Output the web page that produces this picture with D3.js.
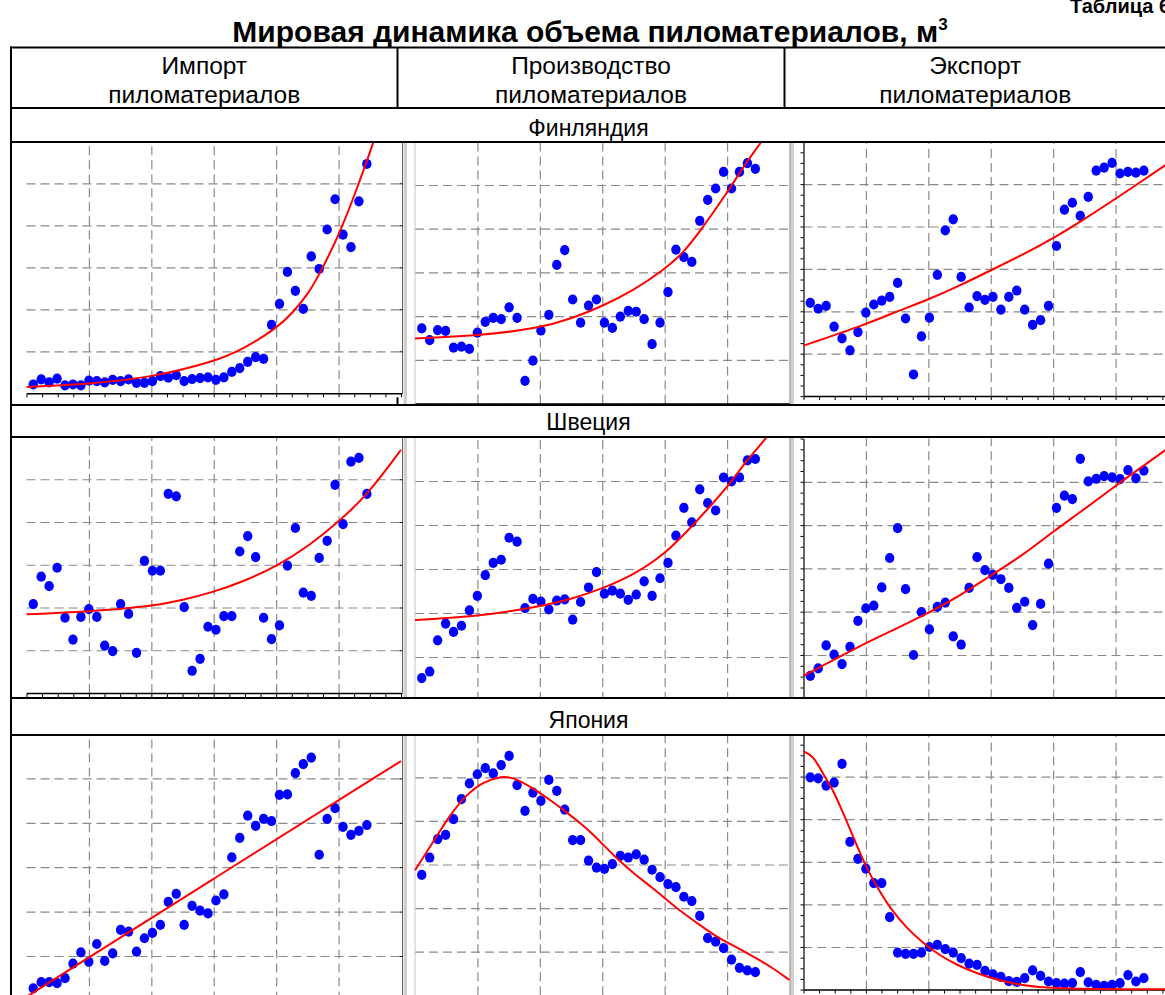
<!DOCTYPE html>
<html lang="ru">
<head>
<meta charset="utf-8">
<title>Мировая динамика объема пиломатериалов</title>
<script src="https://cdn.jsdelivr.net/npm/d3@7/dist/d3.min.js"></script>
<style>
    html, body { margin: 0; padding: 0; background: #fff; }
    svg { display: block; }
    text { font-family: 'Liberation Sans', Arial, sans-serif; fill: #000; }
</style>
</head>
<body>
<div id="chart"></div>
<script>
///// DATOS //////
//Años de las series (eje X)
const years = [1961, 1962, 1963, 1964, 1965, 1966, 1967, 1968, 1969, 1970,
    1971, 1972, 1973, 1974, 1975, 1976, 1977, 1978, 1979, 1980,
    1981, 1982, 1983, 1984, 1985, 1986, 1987, 1988, 1989, 1990,
    1991, 1992, 1993, 1994, 1995, 1996, 1997, 1998, 1999, 2000,
    2001, 2002, 2003];

//Valores en unidades relativas (0-6 = altura del gráfico)
const finImport = [0.21, 0.33, 0.26, 0.35, 0.19, 0.21, 0.19, 0.30, 0.29, 0.26, 0.32, 0.29, 0.33, 0.25, 0.25, 0.29, 0.41, 0.37, 0.43, 0.29, 0.34, 0.36, 0.38, 0.32, 0.38, 0.51, 0.60, 0.75, 0.86, 0.82, 1.63, 2.13, 2.89, 2.44, 2.01, 3.26, 2.96, 3.90, 4.62, 3.78, 3.48, 4.57, 5.46];
const finProd = [1.72, 1.45, 1.68, 1.66, 1.28, 1.30, 1.25, 1.62, 1.87, 1.96, 1.93, 2.20, 1.96, 0.52, 0.98, 1.67, 2.03, 3.17, 3.51, 2.38, 1.85, 2.24, 2.38, 1.85, 1.73, 1.99, 2.12, 2.10, 1.93, 1.36, 1.85, 2.55, 3.52, 3.35, 3.24, 4.18, 4.66, 4.92, 5.30, 4.92, 5.30, 5.50, 5.37];
const finExport = [2.20, 2.06, 2.13, 1.64, 1.36, 1.08, 1.51, 1.97, 2.16, 2.25, 2.34, 2.67, 1.83, 0.51, 1.41, 1.85, 2.86, 3.91, 4.17, 2.81, 2.09, 2.36, 2.27, 2.34, 2.04, 2.34, 2.49, 2.04, 1.68, 1.79, 2.13, 3.54, 4.40, 4.56, 4.25, 4.70, 5.32, 5.39, 5.50, 5.25, 5.29, 5.27, 5.32];
const sweImport = [2.08, 2.72, 2.50, 2.93, 1.76, 1.25, 1.78, 1.96, 1.78, 1.11, 0.98, 2.08, 1.85, 0.94, 3.09, 2.86, 2.86, 4.66, 4.60, 2.01, 0.52, 0.80, 1.55, 1.48, 1.80, 1.80, 3.31, 3.67, 3.18, 1.76, 1.26, 1.58, 2.98, 3.86, 2.35, 2.27, 3.16, 3.56, 4.87, 3.95, 5.41, 5.50, 4.66];
const sweProd = [0.52, 0.67, 1.38, 1.76, 1.57, 1.71, 2.06, 2.39, 2.86, 3.14, 3.21, 3.71, 3.62, 2.11, 2.32, 2.26, 2.08, 2.28, 2.31, 1.85, 2.25, 2.58, 2.93, 2.44, 2.51, 2.44, 2.30, 2.42, 2.72, 2.39, 2.79, 3.14, 3.76, 4.39, 4.06, 4.81, 4.50, 4.33, 5.08, 4.99, 5.08, 5.47, 5.50];
const sweExport = [0.52, 0.69, 1.22, 1.01, 0.79, 1.19, 1.79, 2.08, 2.14, 2.56, 3.24, 3.93, 2.52, 1.00, 1.99, 1.59, 2.11, 2.21, 1.43, 1.24, 2.55, 3.26, 2.96, 2.85, 2.75, 2.55, 2.09, 2.23, 1.69, 2.18, 3.11, 4.40, 4.68, 4.60, 5.53, 5.01, 5.07, 5.13, 5.10, 5.06, 5.27, 5.08, 5.26];
const jpnImport = [0.27, 0.41, 0.41, 0.39, 0.50, 0.83, 1.08, 0.87, 1.27, 0.89, 1.06, 1.59, 1.55, 1.10, 1.40, 1.52, 1.70, 2.22, 2.40, 1.70, 2.13, 2.02, 1.96, 2.25, 2.39, 3.22, 3.66, 4.16, 3.93, 4.09, 4.04, 4.63, 4.64, 5.12, 5.32, 5.47, 3.28, 4.09, 4.33, 3.91, 3.73, 3.82, 3.95];
const jpnProd = [2.76, 3.16, 3.58, 3.68, 4.04, 4.50, 4.86, 5.07, 5.21, 5.09, 5.28, 5.49, 4.82, 4.23, 4.65, 4.46, 4.94, 4.69, 4.26, 3.56, 3.56, 3.09, 2.93, 2.90, 3.01, 3.20, 3.16, 3.23, 3.11, 2.88, 2.71, 2.55, 2.48, 2.26, 2.16, 1.82, 1.31, 1.23, 1.08, 0.82, 0.63, 0.57, 0.53];
const jpnExport = [4.98, 4.96, 4.79, 4.86, 5.30, 3.47, 3.07, 2.84, 2.50, 2.50, 1.70, 0.87, 0.84, 0.84, 0.87, 1.00, 1.05, 0.95, 0.87, 0.74, 0.61, 0.58, 0.44, 0.36, 0.30, 0.20, 0.18, 0.27, 0.45, 0.32, 0.19, 0.15, 0.14, 0.15, 0.41, 0.17, 0.11, 0.09, 0.11, 0.15, 0.34, 0.19, 0.27];

//Curvas de ajuste: [año, valor]
const finImportFit = [[1960.15, 0.15], [1968.0, 0.22], [1975.9, 0.38], [1983.75, 0.75], [1987.4, 1.05], [1991.65, 1.55], [1993.7, 1.92], [1995.8, 2.42], [1997.1, 2.86], [1999.5, 3.77], [2001.7, 4.84], [2003.8, 5.95], [2004.6, 6.45]];
const finProdFit = [[1960.15, 1.49], [1968.0, 1.55], [1975.8, 1.72], [1980.1, 1.96], [1983.65, 2.22], [1987.6, 2.58], [1991.5, 3.06], [1993.9, 3.44], [1996.0, 3.93], [1999.4, 4.81], [2001.9, 5.53], [2003.8, 5.99], [2005.0, 6.35]];
const finExportFit = [[1960.15, 1.19], [1968.0, 1.69], [1971.8, 1.99], [1975.9, 2.28], [1979.75, 2.60], [1983.65, 2.96], [1987.7, 3.33], [1991.5, 3.71], [1995.3, 4.15], [1999.35, 4.64], [2005.6, 5.43], [2007.3, 5.65]];
const sweImportFit = [[1960.15, 1.84], [1967.85, 1.90], [1975.74, 2.02], [1979.9, 2.18], [1983.67, 2.36], [1987.45, 2.61], [1991.65, 2.96], [1995.84, 3.46], [1999.5, 4.01], [2003.18, 4.66], [2007.3, 5.69]];
const sweProdFit = [[1960.15, 1.84], [1968.0, 1.92], [1975.8, 2.14], [1980.1, 2.33], [1983.65, 2.55], [1987.6, 2.86], [1991.5, 3.32], [1994.8, 3.93], [1997.3, 4.42], [2000.0, 4.98], [2001.9, 5.47], [2004.4, 5.97], [2005.5, 6.3]];
const sweExportFit = [[1960.15, 0.52], [1967.85, 1.27], [1971.04, 1.54], [1975.74, 1.96], [1979.5, 2.33], [1983.5, 2.81], [1987.8, 3.31], [1991.4, 3.83], [1995.4, 4.35], [1999.3, 4.89], [2002.5, 5.31], [2005.7, 5.73], [2007.3, 5.95]];
const jpnImportFit = [[1960.15, 0.08], [1983.7, 2.74], [2007.3, 5.39]];
const jpnProdFit = [[1960.15, 2.87], [1962.45, 3.52], [1964.56, 4.14], [1966.66, 4.61], [1968.75, 4.90], [1971.06, 5.03], [1972.53, 5.00], [1975.04, 4.75], [1977.15, 4.48], [1979.25, 4.20], [1981.77, 3.83], [1983.65, 3.49], [1985.54, 3.14], [1987.63, 2.80], [1990.15, 2.45], [1991.84, 2.19], [1993.93, 1.88], [1996.03, 1.61], [1998.13, 1.34], [2000.22, 1.14], [2002.74, 0.89], [2005.26, 0.62], [2007.3, 0.35]];
const jpnExportFit = [[1960.15, 5.59], [1961.4, 5.49], [1962.64, 5.05], [1963.9, 4.68], [1965.16, 4.14], [1966.84, 3.39], [1968.1, 2.85], [1969.37, 2.42], [1971.04, 1.91], [1973.14, 1.44], [1975.23, 1.09], [1977.33, 0.80], [1979.44, 0.58], [1981.96, 0.38], [1984.47, 0.23], [1987.82, 0.09], [1992.03, 0.03], [1996.22, 0.01], [2007.3, 0.01]];

//Textos de la tabla
const tableTitle = 'Мировая динамика объема пиломатериалов, м';
const tableNumber = 'Таблица 6';
const colNames = [['Импорт', 'пиломатериалов'], ['Производство', 'пиломатериалов'], ['Экспорт', 'пиломатериалов']];
const rowNames = ['Финляндия', 'Швеция', 'Япония'];

const xDomain = [1960.15, 2007.3];
const yDomain = [0, 6];

///// DISPOSICIÓN //////
let width = 1165, height = 995;
let colLines = [11, 397.5, 784.5, 1166];
let hLines = [47.5, 108, 142, 405, 437, 698, 735];
let rowBoxes = [{top: 143, bottom: 404}, {top: 438, bottom: 697}, {top: 736, bottom: 1000}];
let labelBaselines = [136, 430, 728];
let imgBoxes = [{x0: 12, x1: 403}, {x0: 403, x1: 790}, {x0: 790, x1: 1166}];
let plotX0 = [26.5, 415, 803.5], plotW = 374.5;

let panels = [
    {row: 0, col: 0, dots: finImport, fit: finImportFit, bottom: 393.3, gy: 42},
    {row: 0, col: 1, dots: finProd, fit: finProdFit, bottom: 403.5, gy: 43.7},
    {row: 0, col: 2, dots: finExport, fit: finExportFit, bottom: 396.1, gy: 42.4},
    {row: 1, col: 0, dots: sweImport, fit: sweImportFit, bottom: 693, gy: 42.75},
    {row: 1, col: 1, dots: sweProd, fit: sweProdFit, bottom: 701, gy: 44},
    {row: 1, col: 2, dots: sweExport, fit: sweExportFit, bottom: 698.3, gy: 43.3},
    {row: 2, col: 0, dots: jpnImport, fit: jpnImportFit, bottom: 1000.4, gy: 44.4},
    {row: 2, col: 1, dots: jpnProd, fit: jpnProdFit, bottom: 995.3, gy: 43.6},
    {row: 2, col: 2, dots: jpnExport, fit: jpnExportFit, bottom: 989.6, gy: 42.6}
];

let svg = d3.select('#chart')
    .append('svg')
    .attr('width', width)
    .attr('height', height);

svg.append('rect').attr('width', width).attr('height', height).attr('fill', '#fff');

//Divisiones de columnas bajo las imágenes
let chartRowSpans = [[142, 405], [437, 698], [735, 1000]];
chartRowSpans.forEach(function(s) {
    [colLines[1], colLines[2]].forEach(function(cx) {
        svg.append('line')
            .attr('x1', cx).attr('x2', cx)
            .attr('y1', s[0]).attr('y2', s[1])
            .attr('stroke', '#000').attr('stroke-width', 2);
    });
});

let span = xDomain[1] - xDomain[0];
let gridX = d3.range(1, 6).map(function(i) { return xDomain[0] + i * span / 6; });
let minorX = d3.range(0, 25).map(function(i) { return xDomain[0] + i * span / 24; });
let gridY = [1, 2, 3, 4, 5];
let minorY = d3.range(0, 25).map(function(i) { return i / 4; });

///// GRÁFICOS //////
panels.forEach(function(p, i) {
    let box = imgBoxes[p.col], rb = rowBoxes[p.row];
    let left = plotX0[p.col], right = left + plotW;
    let plotH = 6 * p.gy;

    svg.append('clipPath').attr('id', 'clip' + i)
        .append('rect')
        .attr('x', box.x0).attr('y', rb.top)
        .attr('width', box.x1 - box.x0).attr('height', rb.bottom - rb.top);

    let g = svg.append('g').attr('clip-path', 'url(#clip' + i + ')');

    let x = d3.scaleLinear().domain(xDomain).range([left, right]);
    let y = d3.scaleLinear().domain(yDomain).range([p.bottom, p.bottom - plotH]);

    //Fondo de la captura
    g.append('rect')
        .attr('x', box.x0).attr('y', rb.top)
        .attr('width', box.x1 - box.x0)
        .attr('height', Math.min(rb.bottom, p.bottom + 4) - rb.top)
        .attr('fill', '#fff');

    //Rejilla vertical
    g.append('g')
        .attr('transform', 'translate(0,' + p.bottom + ')')
        .call(d3.axisBottom(x).tickValues(gridX).tickSize(-plotH).tickFormat(''))
        .call(function(g) { g.select('.domain').remove(); })
        .call(function(g) {
            g.selectAll('.tick line')
                .attr('stroke', '#8a8a8a')
                .attr('stroke-width', 1.2)
                .attr('stroke-dasharray', '9,5');
        });

    //Rejilla horizontal
    g.append('g')
        .attr('transform', 'translate(' + left + ',0)')
        .call(d3.axisLeft(y).tickValues(gridY).tickSize(-plotW).tickFormat(''))
        .call(function(g) { g.select('.domain').remove(); })
        .call(function(g) {
            g.selectAll('.tick line')
                .attr('stroke', '#8a8a8a')
                .attr('stroke-width', 1.2)
                .attr('stroke-dasharray', '9,5');
        });

    //Eje X con marcas menores
    g.append('g')
        .attr('transform', 'translate(0,' + p.bottom + ')')
        .call(d3.axisBottom(x).tickValues(minorX).tickSize(4).tickSizeOuter(0).tickFormat(''))
        .call(function(g) {
            g.select('.domain').attr('stroke', '#000').attr('stroke-width', 1.5);
            g.selectAll('.tick line').attr('stroke', '#000');
        });

    //Bordes de ventana
    if (p.col == 0) {
        g.append('g')
            .attr('transform', 'translate(402.5,0)')
            .call(d3.axisLeft(y).tickValues([0, 1, 2, 3, 4, 5, 6]).tickSize(3).tickSizeOuter(0).tickFormat(''))
            .call(function(g) {
                g.select('.domain').attr('stroke', '#000').attr('stroke-width', 1.2);
            });
    }
    if (p.col == 1) {
        g.append('rect').attr('x', 403.5).attr('y', rb.top).attr('width', 3.5).attr('height', rb.bottom - rb.top).attr('fill', '#d4d0c8');
        g.append('line').attr('x1', left).attr('x2', left).attr('y1', rb.top).attr('y2', p.bottom).attr('stroke', '#c8c8c8');
        g.append('rect').attr('x', 790.5).attr('y', rb.top).attr('width', 3.5).attr('height', rb.bottom - rb.top).attr('fill', '#d4d0c8');
        g.append('line').attr('x1', 790).attr('x2', 790).attr('y1', rb.top).attr('y2', rb.bottom).attr('stroke', '#808080');
    }
    if (p.col == 2) {
        g.append('rect').attr('x', 790.5).attr('y', rb.top).attr('width', 3.5).attr('height', rb.bottom - rb.top).attr('fill', '#d4d0c8');
        g.append('line').attr('x1', 790).attr('x2', 790).attr('y1', rb.top).attr('y2', rb.bottom).attr('stroke', '#808080');
        g.append('g')
            .attr('transform', 'translate(' + left + ',0)')
            .call(d3.axisLeft(y).tickValues(minorY).tickSize(3).tickSizeOuter(0).tickFormat(''))
            .call(function(g) {
                g.select('.domain').attr('stroke', '#000').attr('stroke-width', 1.2);
            });
    }

    //Puntos
    g.selectAll('.dot')
        .data(p.dots)
        .enter()
        .append('ellipse')
        .attr('class', 'dot')
        .attr('cx', function(d, j) { return x(years[j]); })
        .attr('cy', function(d) { return y(d); })
        .attr('rx', 4.7)
        .attr('ry', 5.1)
        .attr('fill', '#0000ff');

    //Curva de ajuste
    g.append('path')
        .datum(p.fit)
        .attr('fill', 'none')
        .attr('stroke', '#ff0000')
        .attr('stroke-width', 2)
        .attr('d', d3.line()
            .x(function(d) { return x(d[0]); })
            .y(function(d) { return y(d[1]); })
            .curve(d3.curveBasis));
});

///// TABLA //////
hLines.forEach(function(hy) {
    svg.append('line')
        .attr('x1', 10).attr('x2', colLines[3])
        .attr('y1', hy).attr('y2', hy)
        .attr('stroke', '#000').attr('stroke-width', 2);
});

svg.append('line')
    .attr('x1', colLines[0]).attr('x2', colLines[0])
    .attr('y1', hLines[0] - 1).attr('y2', height)
    .attr('stroke', '#000').attr('stroke-width', 2);

[colLines[1], colLines[2], colLines[3]].forEach(function(cx) {
    svg.append('line')
        .attr('x1', cx).attr('x2', cx)
        .attr('y1', hLines[0]).attr('y2', hLines[1])
        .attr('stroke', '#000').attr('stroke-width', 2);
});

//Títulos
svg.append('text')
    .attr('x', 1070).attr('y', 13)
    .attr('font-size', 20).attr('font-weight', 'bold')
    .text(tableNumber);

let title = svg.append('text')
    .attr('x', 590).attr('y', 42)
    .attr('text-anchor', 'middle')
    .attr('font-size', 30).attr('font-weight', 'bold');
title.append('tspan').text(tableTitle);
title.append('tspan').attr('font-size', 17).attr('dy', -12).text('3');

colNames.forEach(function(c, i) {
    let cx = (colLines[i] + colLines[i + 1]) / 2;
    svg.append('text').attr('x', cx).attr('y', 74).attr('text-anchor', 'middle').attr('font-size', 24.5).text(c[0]);
    svg.append('text').attr('x', cx).attr('y', 103).attr('text-anchor', 'middle').attr('font-size', 24.5).text(c[1]);
});

rowNames.forEach(function(r, i) {
    svg.append('text')
        .attr('x', (colLines[0] + colLines[3]) / 2)
        .attr('y', labelBaselines[i])
        .attr('text-anchor', 'middle')
        .attr('font-size', 23)
        .text(r);
});
</script>
</body>
</html>
